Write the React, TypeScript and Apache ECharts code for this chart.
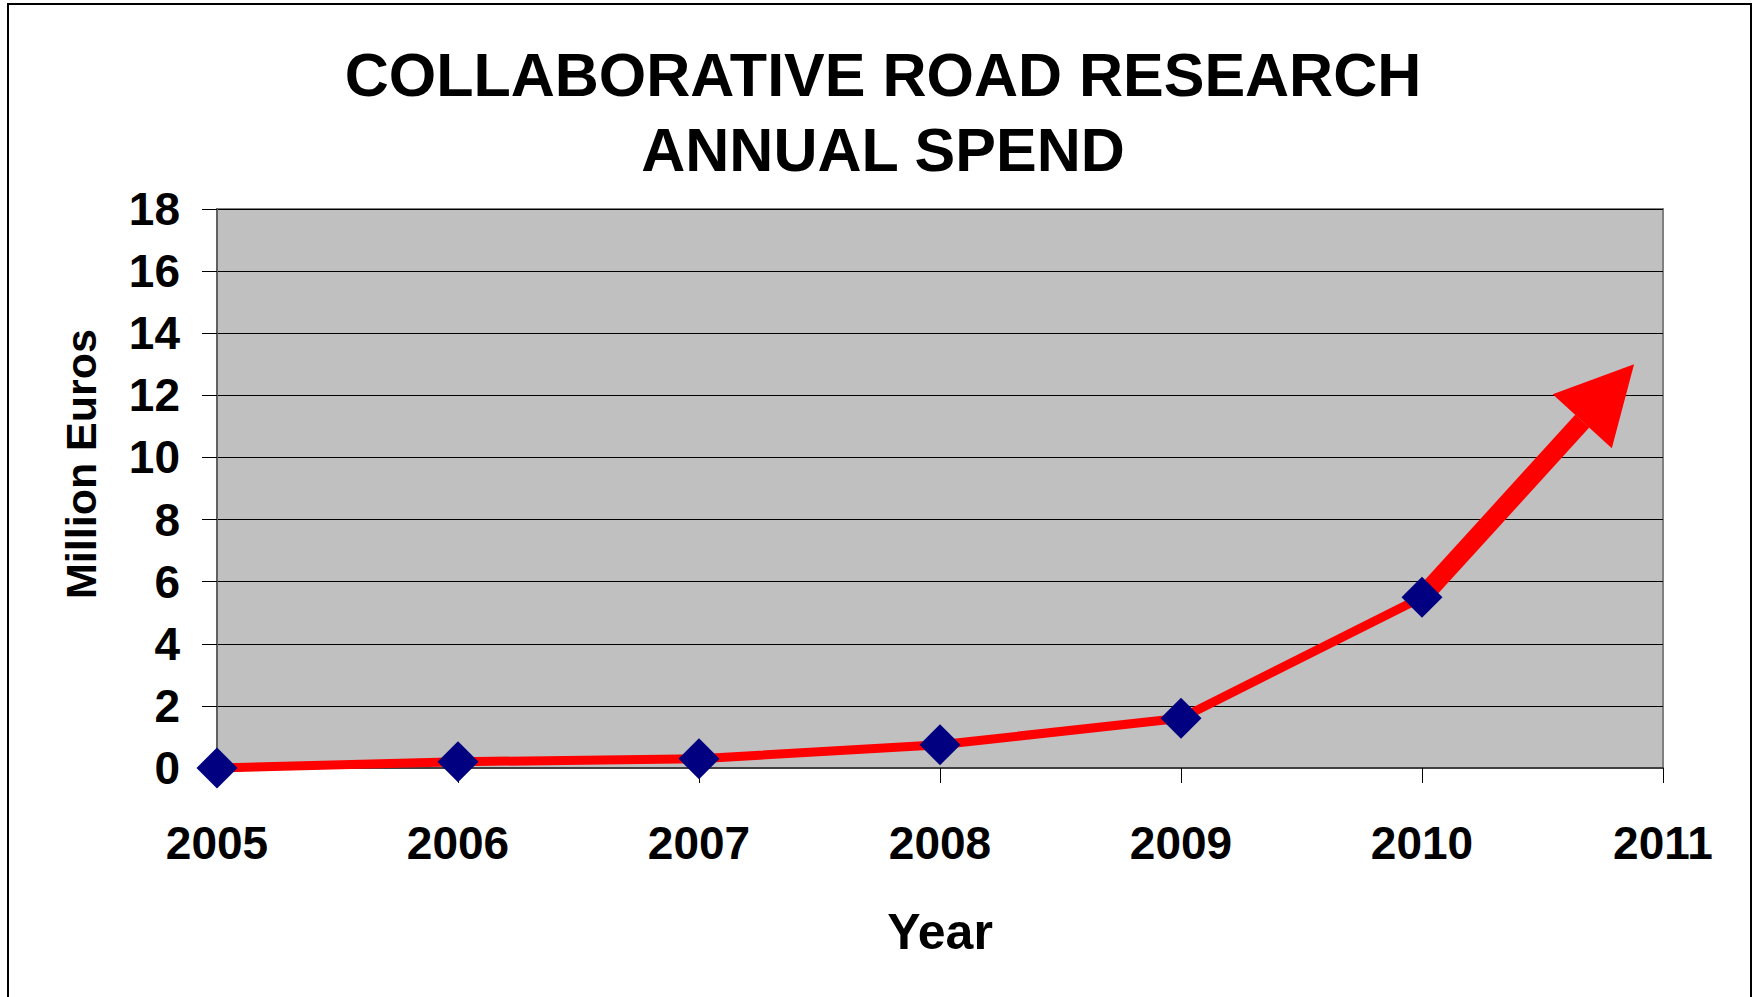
import React, { useEffect, useRef } from "react";
import * as echarts from "echarts";

const titleLines = ["COLLABORATIVE ROAD RESEARCH", "ANNUAL SPEND"];
const years = [2005, 2006, 2007, 2008, 2009, 2010];
const spend = [0, 0.2, 0.3, 0.75, 1.6, 5.5];
const arrowTarget = [2010.88, 13.0];
const xAxisRange = [2005, 2011];
const yAxisRange = [0, 18];
const yAxisName = "Million Euros";
const xAxisName = "Year";

const FONT = "'Liberation Sans', Arial, sans-serif";

export default function App() {
  const ref = useRef<HTMLDivElement>(null);

  useEffect(() => {
    document.body.style.margin = "0";
    document.body.style.overflow = "hidden";
    const chart = echarts.init(ref.current!, null, { renderer: "svg" });

    const HEAD_LEN = 77;
    const HEAD_HW = 40;
    const SHAFT_W = 19;

    const option: any = {
      animation: false,
      backgroundColor: "#ffffff",
      textStyle: { fontFamily: FONT },
      title: {
        text: titleLines.join("\n"),
        left: 878,
        textAlign: "center",
        top: 32,
        textStyle: {
          fontFamily: FONT,
          fontSize: 61,
          fontWeight: "bold",
          color: "#000",
          lineHeight: 75,
        },
      },
      grid: {
        left: 217,
        right: 94,
        top: 209,
        bottom: 229,
        show: true,
        backgroundColor: "#c0c0c0",
        borderColor: "#808080",
        borderWidth: 2,
      },
      xAxis: {
        type: "value",
        min: xAxisRange[0],
        max: xAxisRange[1],
        interval: 1,
        name: xAxisName,
        nameLocation: "middle",
        nameGap: 139,
        nameTextStyle: {
          fontFamily: FONT,
          fontSize: 50,
          fontWeight: "bold",
          color: "#000",
        },
        axisLine: { show: true, lineStyle: { color: "#404040", width: 2 } },
        axisTick: { show: true, inside: false, length: 15, lineStyle: { color: "#000", width: 1 } },
        axisLabel: {
          margin: 52,
          fontFamily: FONT,
          fontSize: 46,
          fontWeight: "bold",
          color: "#000",
          formatter: (v: number) => String(v),
        },
        splitLine: { show: false },
      },
      yAxis: {
        type: "value",
        min: yAxisRange[0],
        max: yAxisRange[1],
        interval: 2,
        axisLine: { show: true, lineStyle: { color: "#606060", width: 2 } },
        axisTick: { show: true, inside: false, length: 15, lineStyle: { color: "#000", width: 1 } },
        axisLabel: {
          margin: 37,
          fontFamily: FONT,
          fontSize: 46,
          fontWeight: "bold",
          color: "#000",
        },
        splitLine: { show: true, lineStyle: { color: "#000", width: 1 } },
      },
      graphic: [
        {
          type: "rect",
          shape: { x: 8, y: 4, width: 1743, height: 1020 },
          style: { fill: "transparent", stroke: "#000", lineWidth: 2 },
          z: 100,
          silent: true,
        },
        {
          type: "text",
          x: 81,
          y: 464,
          rotation: Math.PI / 2,
          style: {
            text: yAxisName,
            fontFamily: FONT,
            fontSize: 43,
            fontWeight: "bold",
            fill: "#000",
            textAlign: "center",
            textVerticalAlign: "middle",
          },
        },
      ],
      series: [
        {
          type: "custom",
          z: 1,
          clip: false,
          encode: { x: [0, 2], y: [1, 3] },
          data: [[years[years.length - 1], spend[spend.length - 1], arrowTarget[0], arrowTarget[1]]],
          renderItem: (params: any, api: any) => {
            const p0 = api.coord([api.value(0), api.value(1)]);
            const p1 = api.coord([api.value(2), api.value(3)]);
            const dx = p1[0] - p0[0];
            const dy = p1[1] - p0[1];
            const len = Math.hypot(dx, dy);
            const ux = dx / len;
            const uy = dy / len;
            const nx = -uy;
            const ny = ux;
            const bx = p1[0] - ux * HEAD_LEN;
            const by = p1[1] - uy * HEAD_LEN;
            const hw = SHAFT_W / 2;
            return {
              type: "group",
              children: [
                {
                  type: "polygon",
                  shape: {
                    points: [
                      [p0[0] + nx * hw, p0[1] + ny * hw],
                      [bx + nx * hw, by + ny * hw],
                      [bx - nx * hw, by - ny * hw],
                      [p0[0] - nx * hw, p0[1] - ny * hw],
                    ],
                  },
                  style: { fill: "#ff0000" },
                },
                {
                  type: "polygon",
                  shape: {
                    points: [
                      [p1[0], p1[1]],
                      [bx + nx * HEAD_HW, by + ny * HEAD_HW],
                      [bx - nx * HEAD_HW, by - ny * HEAD_HW],
                    ],
                  },
                  style: { fill: "#ff0000" },
                },
              ],
            };
          },
        },
        {
          type: "line",
          z: 2,
          clip: false,
          data: years.map((y, i) => [y, spend[i]]),
          symbol: "diamond",
          symbolSize: 41,
          showSymbol: true,
          itemStyle: { color: "#000080" },
          lineStyle: { color: "#ff0000", width: 9 },
        },
      ],
    };

    chart.setOption(option);
    return () => chart.dispose();
  }, []);

  return <div ref={ref} style={{ width: 1757, height: 997 }} />;
}
